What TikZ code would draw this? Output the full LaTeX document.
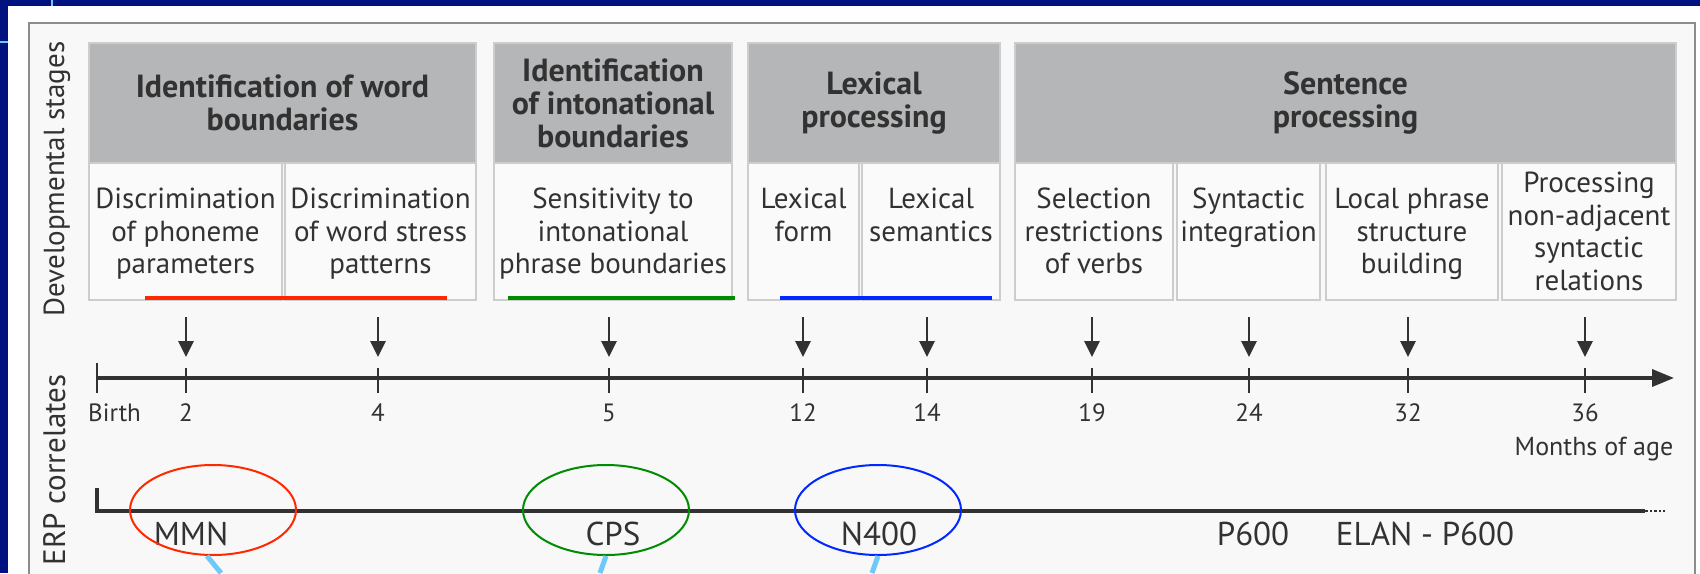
\documentclass[tikz,border=0pt]{standalone}
\usepackage{fontspec}
\setmainfont{PT Sans}
\usetikzlibrary{arrows.meta,shapes.geometric,calc}
\definecolor{navy}{RGB}{0,17,128}
\definecolor{lblue}{RGB}{110,200,250}
\definecolor{hdr}{RGB}{180,182,184}
\definecolor{cellfill}{RGB}{250,250,250}
\definecolor{cellline}{RGB}{205,205,205}
\definecolor{framefill}{RGB}{248,248,248}
\definecolor{framedraw}{RGB}{140,140,140}
\definecolor{ink}{RGB}{50,50,50}
\definecolor{redl}{RGB}{255,40,0}
\definecolor{greenl}{RGB}{0,140,0}
\definecolor{bluel}{RGB}{0,40,255}
\begin{document}
\begin{tikzpicture}[x=1pt,y=-1pt,
  hdrbox/.style={fill=hdr, draw=cellline, line width=1.5, minimum height=120, inner sep=0,
     font=\fontsize{32}{33}\selectfont\bfseries, text=ink, align=center},
  cellbox/.style={fill=cellfill, draw=cellline, line width=1.5, minimum height=137, inner sep=0},
  celltext/.style={anchor=north, inner sep=0, align=center, text=ink, font=\fontsize{29}{32.5}\selectfont},
  sidelabel/.style={rotate=90, anchor=base, inner sep=0, text=ink, font=\fontsize{29}{32}\selectfont},
  ticklabel/.style={anchor=base, inner sep=0, text=ink, font=\fontsize{25}{30}\selectfont},
  erplabel/.style={anchor=base, inner sep=0, text=ink, font=\fontsize{33}{36}\selectfont},
  stagearrow/.style={draw=ink, line width=2.8, -{Triangle[length=16pt,width=15pt]}},
  tickline/.style={draw=ink, line width=2.6},
  underline/.style={line width=4.5},
  erpring/.style={ellipse, draw, line width=2, minimum width=166, minimum height=90, inner sep=0},
  callout/.style={draw=lblue, line width=5}
]
\useasboundingbox (0,0) rectangle (1700,573);
% background
\fill[navy] (0,0) rectangle (1700,573);
\fill[white] (8,6) rectangle (1700,573);
\draw[lblue, line width=2.5] (52,0) -- (52,6);
\draw[lblue, line width=2.5] (0,42) -- (8,42);
% frame
\filldraw[fill=framefill, draw=framedraw, line width=2.5] (29,23) -- (1695,23) -- (1695,580) -- (29,580) -- cycle;

% side labels
\node[sidelabel] (devlab) at (64,179) {Developmental stages};
\node[sidelabel, font=\fontsize{31}{34}\selectfont] (erplab) at (65,470) {ERP correlates};

% header boxes
\node[hdrbox, minimum width=387] (h1) at (282.5,103) {Identification of word\\boundaries};
\node[hdrbox, minimum width=238] (h2) at (613,103) {Identification\\of intonational\\boundaries};
\node[hdrbox, minimum width=252] (h3) at (874,103) {Lexical\\processing};
\node[hdrbox, minimum width=661] (h4) at (1345.5,103) {Sentence\\processing};

% cells
\node[cellbox, minimum width=193] (c1) at (185.5,231.5) {};
\node[cellbox, minimum width=191] (c2) at (380.5,231.5) {};
\node[cellbox, minimum width=238] (c3) at (613,231.5) {};
\node[cellbox, minimum width=111] (c4) at (803.5,231.5) {};
\node[cellbox, minimum width=138] (c5) at (931,231.5) {};
\node[cellbox, minimum width=158] (c6) at (1094,231.5) {};
\node[cellbox, minimum width=143] (c7) at (1248.5,231.5) {};
\node[cellbox, minimum width=172] (c8) at (1412,231.5) {};
\node[cellbox, minimum width=174] (c9) at (1589,231.5) {};

\node[celltext] (t1) at (185.5,188) {Discrimination\\of phoneme\\parameters};
\node[celltext] (t2) at (380.5,188) {Discrimination\\of word stress\\patterns};
\node[celltext] (t3) at (613,188) {Sensitivity to\\intonational\\phrase boundaries};
\node[celltext] (t4) at (803.5,188) {Lexical\\form};
\node[celltext] (t5) at (931,188) {Lexical\\semantics};
\node[celltext] (t6) at (1094,188) {Selection\\restrictions\\of verbs};
\node[celltext] (t7) at (1248.5,188) {Syntactic\\integration};
\node[celltext] (t8) at (1412,188) {Local phrase\\structure\\building};
\node[celltext] (t9) at (1589,172) {Processing\\non-adjacent\\syntactic\\relations};

% coloured underlines
\draw[underline, redl] (145,298) -- (447,298);
\draw[underline, greenl] (508,298) -- (735,298);
\draw[underline, bluel] (780,298) -- (992,298);

% timeline
\coordinate (tlstart) at (97,378);
\coordinate (tlend) at (1674,378);
\draw[draw=ink, line width=3.5, -{Triangle[length=22pt,width=17pt]}] (tlstart) -- (tlend);
\draw[tickline] (97,363) -- (97,393);
\node[ticklabel, anchor=base west] (lbirth) at (88,421) {Birth};
\foreach \x/\m/\nm in {186/2/a,378/4/b,609/5/c,803/12/d,927/14/e,1092/19/f,1249/24/g,1408/32/h,1585/36/i}{
  \coordinate (tk\nm) at (\x,368);
  \coordinate (ar\nm) at (\x,317);
  \draw[tickline] (tk\nm) -- (\x,393);
  \draw[stagearrow] (ar\nm) -- ($(tk\nm)+(0,-11)$);
  \node[ticklabel] (lab\nm) at (\x,421) {\m};
}
\node[ticklabel, font=\fontsize{26}{30}\selectfont] (months) at (1594,455) {Months of age};

% ERP line
\coordinate (erp0) at (97,488);
\coordinate (erp1) at (97,511);
\coordinate (erp2) at (1645,511);
\coordinate (erp3) at (1665,511);
\draw[draw=ink, line width=3.5] (erp0) -- (erp1) -- (erp2);
\draw[draw=ink, line width=2.5, dotted] (erp2) -- (erp3);

\node[erplabel] (mmn) at (191,545) {MMN};
\node[erplabel] (cps) at (613,545) {CPS};
\node[erplabel] (n400) at (879,545) {N400};
\node[erplabel] (p600) at (1253,545) {P600};
\node[erplabel] (elan) at (1425,545) {ELAN - P600};

\node[erpring, draw=redl] (rmmn) at (213,510) {};
\node[erpring, draw=greenl] (rcps) at (606,510) {};
\node[erpring, draw=bluel] (rn400) at (878,510) {};

\coordinate (emmn) at (221,573);
\coordinate (ecps) at (600,573);
\coordinate (en400) at (872,573);
\draw[callout] ($(rmmn.south)+(-6,0)$) -- (emmn);
\draw[callout] (rcps.south) -- (ecps);
\draw[callout] (rn400.south) -- (en400);
\end{tikzpicture}
\end{document}
